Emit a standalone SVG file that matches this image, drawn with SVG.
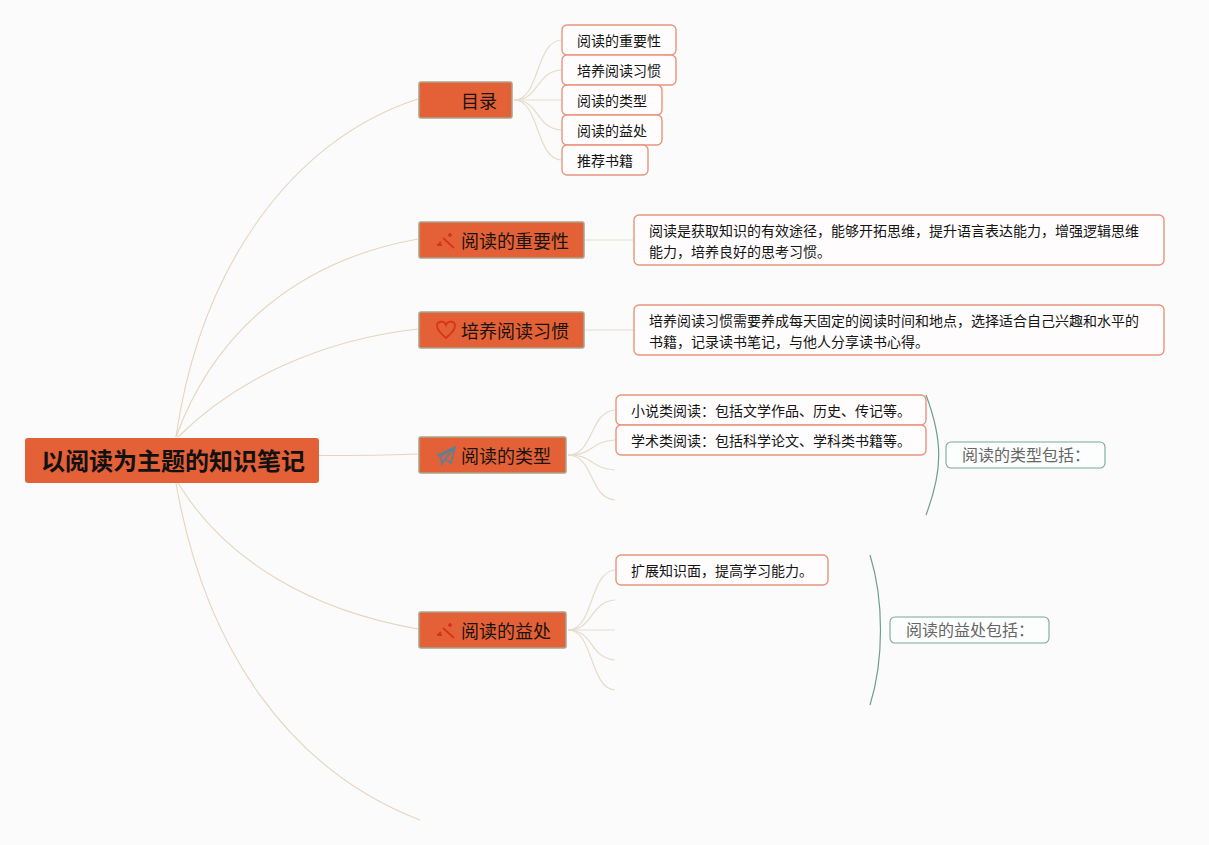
<svg xmlns="http://www.w3.org/2000/svg" width="1209" height="845" viewBox="0 0 1209 845">
<style>
text{font-family:"Noto Sans CJK SC","Noto Sans",sans-serif;fill:#141414}
.c{fill:none;stroke:#e6dccb;stroke-width:1.200}
.m{fill:none;stroke:#e5d5bd;stroke-width:1.100}
.b rect{fill:#e46036;stroke:#a9a48c;stroke-width:1.500}
.b text{font-size:18px;fill:#1a1410}
.l rect{fill:#fefcfc;stroke:#e9947d;stroke-width:1.400}
.l text{font-size:14px}
.s rect{fill:#fcfdfd;stroke:#7aa898;stroke-width:1.100}
.s text{font-size:16px;fill:#666}
.br{fill:none;stroke:#6d9f8d;stroke-width:1.200}
.w{fill:none;stroke:#d8341a;stroke-width:1.800}
</style>
<rect width="1209" height="845" fill="#fbfbfb"/>
<g id="connectors">
<path class="m" d="M176 437C200 270 290 140 418 99"/>
<path class="m" d="M176 437C215 330 300 260 418 239"/>
<path class="m" d="M178 437C235 380 320 340 418 329"/>
<path class="m" d="M319 455.500C350 455.500 390 455 418 454"/>
<path class="m" d="M178 483C225 560 310 610 418 629"/>
<path class="m" d="M176 483C205 650 290 770 420 820"/>
<path class="c" d="M514 100C540 100 535 42 561 40"/>
<path class="c" d="M514 100C540 100 535 72 561 70"/>
<path class="c" d="M514 100H561"/>
<path class="c" d="M514 100C540 100 535 128 561 130"/>
<path class="c" d="M514 100C540 100 535 158 561 160"/>
<path class="c" d="M585 240H633"/>
<path class="c" d="M585 330H633"/>
<path class="c" d="M568 455C594 455 589 412 615 410"/>
<path class="c" d="M568 455C594 455 589 442 615 440"/>
<path class="c" d="M568 455C594 455 589 468 615 470"/>
<path class="c" d="M568 455C594 455 589 498 615 500"/>
<path class="c" d="M568 630C594 630 589 572 615 570"/>
<path class="c" d="M568 630C594 630 589 602 615 600"/>
<path class="c" d="M568 630H615"/>
<path class="c" d="M568 630C594 630 589 658 615 660"/>
<path class="c" d="M568 630C594 630 589 688 615 690"/>
<path class="br" d="M926 395C943 440 943 470 926 515"/>
<path class="br" d="M870 555C884 600 884 660 870 705"/>
</g>
<g id="root"><rect x="25" y="438" width="294" height="45" rx="3" fill="#e46036"/><text x="173" y="470" text-anchor="middle" style="font-size:24px;font-weight:700;fill:#111">以阅读为主题的知识笔记</text></g>
<g id="n1" class="b"><rect x="419" y="82" width="93" height="36" rx="2"/><text x="461" y="108">目录</text></g>
<g id="n2" class="b"><rect x="419" y="222" width="165" height="36" rx="2"/><path class="w" d="M443 238L454 248M450 233v4M448 235h4M438 245l3-3M437 245h5"/><text x="461" y="248">阅读的重要性</text></g>
<g id="n3" class="b"><rect x="419" y="312" width="165" height="36" rx="2"/><path class="w" d="M446 338C439 332 437 329 437 326C437 321 444 320 446 325C448 320 455 321 455 326C455 329 453 332 446 338Z"/><text x="461" y="338">培养阅读习惯</text></g>
<g id="n4" class="b"><rect x="419" y="437" width="147" height="36" rx="2"/><path d="M438 455L455 447L451 463L445 459L442 464L441 457Z M441 456L455 447L445 459" fill="none" stroke="#5f7f96" stroke-width="1.800"/><text x="461" y="463">阅读的类型</text></g>
<g id="n5" class="b"><rect x="419" y="612" width="147" height="36" rx="2"/><path class="w" d="M443 628L454 638M450 623v4M448 625h4M438 635l3-3M437 635h5"/><text x="461" y="638">阅读的益处</text></g>
<g id="a1" class="l"><rect x="562" y="25" width="114" height="30" rx="5"/><text x="577" y="46">阅读的重要性</text></g>
<g id="a2" class="l"><rect x="562" y="55" width="114" height="30" rx="5"/><text x="577" y="76">培养阅读习惯</text></g>
<g id="a3" class="l"><rect x="562" y="85" width="100" height="30" rx="5"/><text x="577" y="106">阅读的类型</text></g>
<g id="a4" class="l"><rect x="562" y="115" width="100" height="30" rx="5"/><text x="577" y="136">阅读的益处</text></g>
<g id="a5" class="l"><rect x="562" y="145" width="86" height="30" rx="5"/><text x="577" y="166">推荐书籍</text></g>
<g id="d1" class="l"><rect x="634" y="215" width="530" height="50" rx="5"/><text x="649" y="236">阅读是获取知识的有效途径，能够开拓思维，提升语言表达能力，增强逻辑思维</text><text x="649" y="257">能力，培养良好的思考习惯。</text></g>
<g id="d2" class="l"><rect x="634" y="305" width="530" height="50" rx="5"/><text x="649" y="326">培养阅读习惯需要养成每天固定的阅读时间和地点，选择适合自己兴趣和水平的</text><text x="649" y="347">书籍，记录读书笔记，与他人分享读书心得。</text></g>
<g id="t1" class="l"><rect x="616" y="395" width="310" height="30" rx="5"/><text x="631" y="416">小说类阅读：包括文学作品、历史、传记等。</text></g>
<g id="t2" class="l"><rect x="616" y="425" width="310" height="30" rx="5"/><text x="631" y="446">学术类阅读：包括科学论文、学科类书籍等。</text></g>
<g id="b1" class="l"><rect x="616" y="555" width="212" height="30" rx="5"/><text x="631" y="576">扩展知识面，提高学习能力。</text></g>
<g id="s1" class="s"><rect x="946" y="442" width="159" height="26" rx="5"/><text x="962" y="461">阅读的类型包括：</text></g>
<g id="s2" class="s"><rect x="890" y="617" width="159" height="26" rx="5"/><text x="906" y="636">阅读的益处包括：</text></g>
</svg>
